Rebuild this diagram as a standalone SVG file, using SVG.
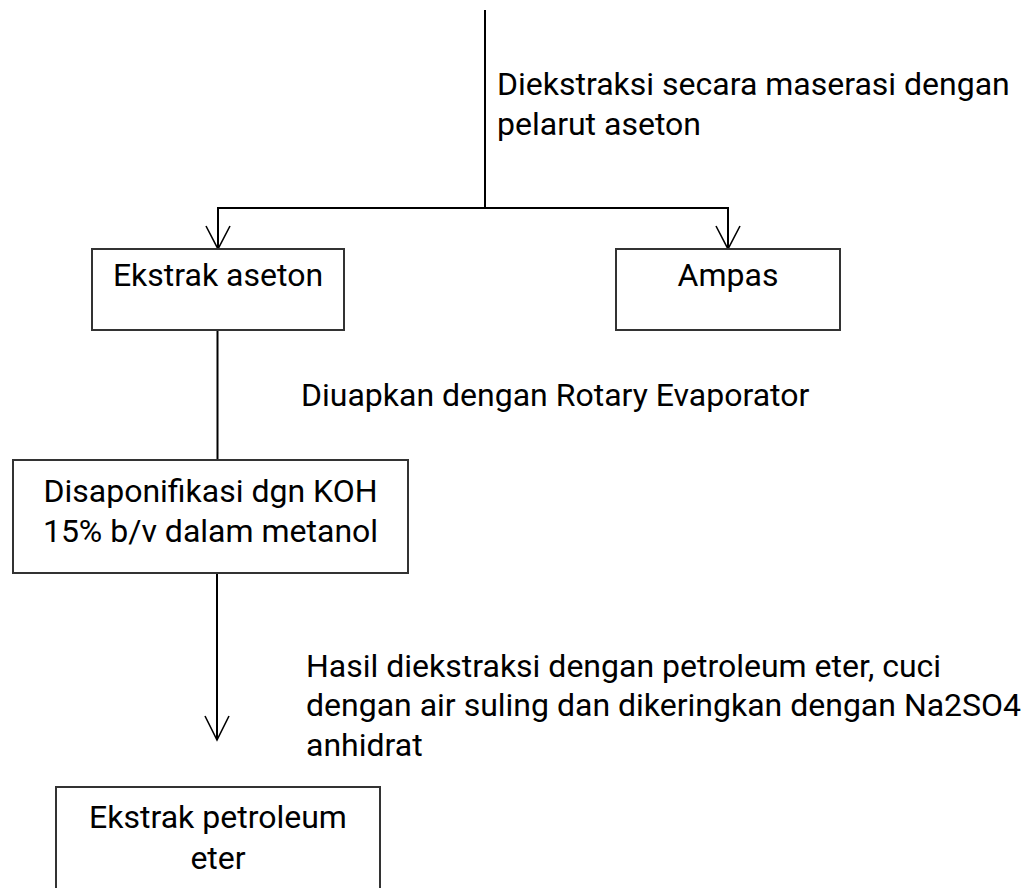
<svg xmlns="http://www.w3.org/2000/svg" width="1028" height="888" viewBox="0 0 1028 888">
<style>
text{font-family:Roboto,"Liberation Sans",sans-serif;font-size:32px;fill:#000}
.box{fill:#fff;stroke:#333;stroke-width:2}
.ln{fill:none;stroke:#000;stroke-width:2}
.ah{fill:none;stroke:#000;stroke-width:1.6}
.c{text-anchor:middle}
</style>
<rect width="1028" height="888" fill="#fff"/>
<g id="connectors">
<line class="ln" x1="485" y1="10" x2="485" y2="208"/>
<polyline class="ln" points="218,249 218,208 728,208 728,249"/>
<path class="ah" d="M206,226 L218,249 L230,226"/>
<path class="ah" d="M716,226 L728,249 L740,226"/>
<line class="ln" x1="217.5" y1="330" x2="217.5" y2="460"/>
<line class="ln" x1="217" y1="573" x2="217" y2="740"/>
<path class="ah" d="M205,716 L217,740 L229,716"/>
<text x="497" y="95">Diekstraksi secara maserasi dengan</text>
<text x="497" y="135">pelarut aseton</text>
<text x="301" y="406">Diuapkan dengan Rotary Evaporator</text>
<text x="306" y="677">Hasil diekstraksi dengan petroleum eter, cuci</text>
<text x="306" y="716">dengan air suling dan dikeringkan dengan Na2SO4</text>
<text x="306" y="756">anhidrat</text>
</g>
<g id="node-ekstrak-aseton">
<rect class="box" x="92" y="249" width="252" height="81"/>
<text class="c" x="218" y="286">Ekstrak aseton</text>
</g>
<g id="node-ampas">
<rect class="box" x="616" y="249" width="224" height="81"/>
<text class="c" x="728" y="286">Ampas</text>
</g>
<g id="node-disaponifikasi">
<rect class="box" x="13" y="460" width="395" height="113"/>
<text class="c" x="210.5" y="502">Disaponifikasi dgn KOH</text>
<text class="c" x="210.5" y="542">15% b/v dalam metanol</text>
</g>
<g id="node-ekstrak-petroleum">
<rect class="box" x="56" y="787" width="324" height="120"/>
<text class="c" x="218" y="828">Ekstrak petroleum</text>
<text class="c" x="218" y="869">eter</text>
</g>
</svg>
